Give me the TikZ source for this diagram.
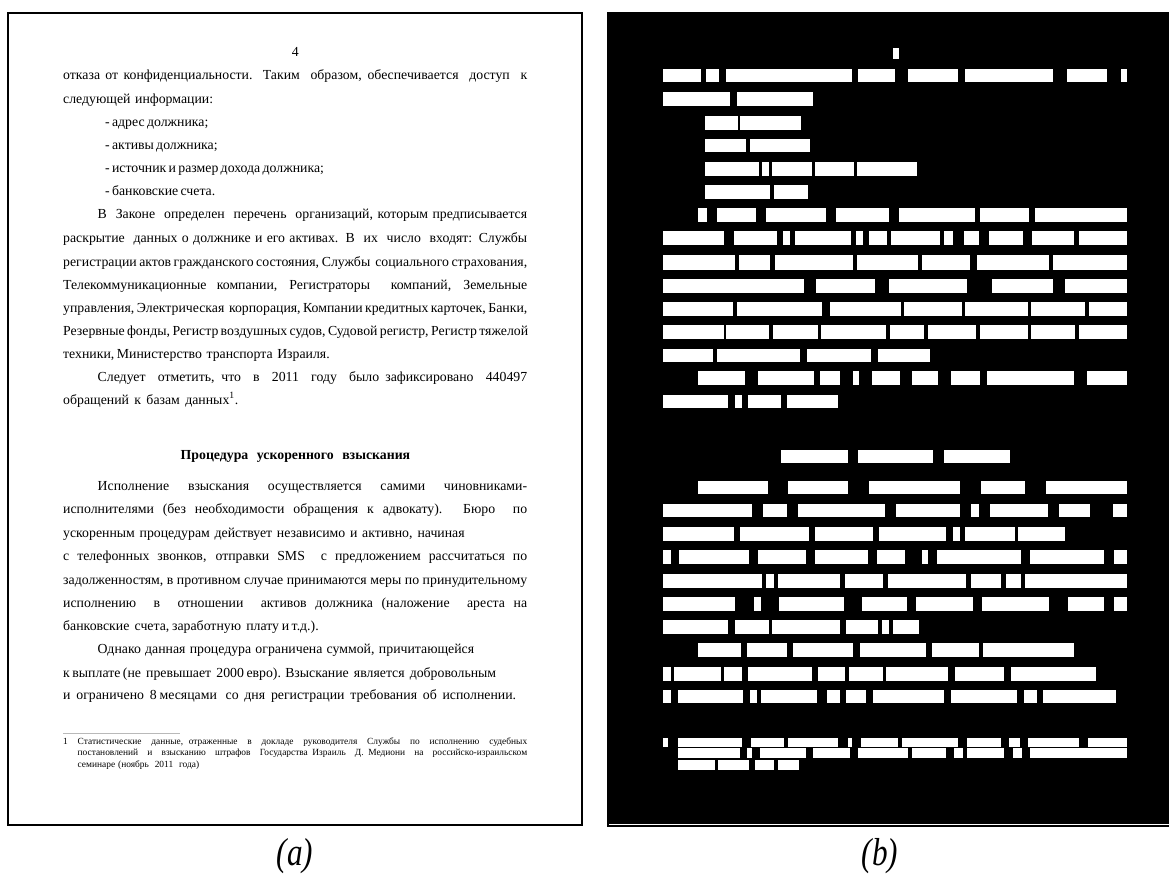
\documentclass[tikz,border=0pt]{standalone}
\usepackage{fontspec}
\setmainfont{Liberation Serif}
\newcommand{\pageLine}[5]{%%
  \node[lineStyle] (#1) at (#2,#3) {\makebox[#4pt][s]{#5}};
}
\newcommand{\noteLine}[5]{%%
  \node[noteStyle] (#1) at (#2,#3) {\makebox[#4pt][s]{#5}};
}
\newcommand{\maskRow}[3]{%%
  %% One row of word masks: top, bottom, left/right pairs.
  \foreach \xl/\xr in {#3} {%%
    \fill[maskStyle] (\xl,#1) rectangle (\xr,#2);
  }
}

\begin{document}
\begin{tikzpicture}[%%
  x=1pt,y=-1pt,%%
  frameStyle/.style={draw=black,line width=2pt},%%
  lineStyle/.style={anchor=base west,inner sep=0pt,font=\fontsize{13.8}{16}\selectfont},%%
  headStyle/.style={lineStyle,font=\fontsize{13.8}{16}\selectfont\bfseries},%%
  noteStyle/.style={lineStyle,font=\fontsize{9.4}{11}\selectfont},%%
  maskStyle/.style={fill=white},%%
  captionStyle/.style={inner sep=0pt,font=\fontsize{39}{42}\selectfont\itshape,xscale=0.8}%%
]
\useasboundingbox (0,0) rectangle (1169,877);
%%
%%
%% Panel (a): the page.
\draw[frameStyle] (8,13) rectangle (582,825);
\node[lineStyle,anchor=base] (pageNo) at (295.4,57) {4};
\pageLine{l1}{63}{79.2}{464}{отказа от конфиденциальности. Таким\ \ образом, обеспечивается\ \ доступ\ \ к}
\pageLine{l2}{63}{103.2}{150}{следующей информации:}
\pageLine{l3}{105}{126.7}{96}{- адрес должника;}
\pageLine{l4}{105}{149.2}{104.5}{- активы должника;}
\pageLine{l5}{105}{172.7}{211.5}{- источник и размер дохода должника;}
\pageLine{l6}{105}{195.7}{103}{- банковские счета.}
\pageLine{l7}{97.5}{218.7}{429.5}{В\ \ Законе\ \ определен\ \ перечень\ \ организаций, которым предписывается}
\pageLine{l8}{63}{242.2}{464}{раскрытие\ \ данных о должнике и его активах. В\ \ их\ \ число\ \ входят: Службы}
\pageLine{l9}{63}{266.2}{464}{регистрации актов гражданского состояния, Службы\ \ социального страхования,}
\pageLine{l10}{63}{289.2}{464}{Телекоммуникационные компании, Регистраторы\ \ компаний, Земельные}
\pageLine{l11}{63}{312.2}{464}{управления, Электрическая\ \ корпорация, Компании кредитных карточек, Банки,}
\pageLine{l12}{63}{335.2}{464}{Резервные фонды, Регистр воздушных судов, Судовой регистр, Регистр тяжелой}
\pageLine{l13}{63}{358.2}{266.5}{техники, Министерство\ \ транспорта\ \ Израиля.}
\pageLine{l14}{97.5}{381.7}{429.5}{Следует\ \ отметить, что\ \ в\ \ 2011\ \ году\ \ было зафиксировано\ \ 440497}
\pageLine{l15}{63}{404.2}{175}{обращений к базам данных\textsuperscript{1}.}
%%
%% The section heading and its text.
\node[headStyle] (head) at (180.5,459.7) {\makebox[229.5pt][s]{Процедура\ \ ускоренного\ \ взыскания}};
\pageLine{m1}{97.5}{490.7}{429.5}{Исполнение взыскания осуществляется самими чиновниками-}
\pageLine{m2}{63}{513.7}{464}{исполнителями (без необходимости обращения к адвокату). Бюро\ \ по}
\pageLine{m3}{63}{537.2}{401.5}{ускоренным процедурам действует независимо и активно, начиная}
\pageLine{m4}{63}{560.2}{464}{с телефонных звонков, отправки SMS\ \ с предложением рассчитаться по}
\pageLine{m5}{63}{584.2}{464}{задолженностям, в противном случае принимаются меры по принудительному}
\pageLine{m6}{63}{607.2}{464}{исполнению\ \ в\ \ отношении\ \ активов должника (наложение\ \ ареста на}
\pageLine{m7}{63}{630.2}{255.5}{банковские\ \ счета, заработную\ \ плату и т.д.).}
\pageLine{m8}{97.5}{653.2}{376.5}{Однако данная процедура ограничена суммой, причитающейся}
\pageLine{m9}{63}{677.2}{433}{к выплате (не\ \ превышает\ \ 2000 евро). Взыскание\ \ является\ \ добровольным}
\pageLine{m10}{63}{699.2}{453}{и\ \ ограничено\ \ 8 месяцами\ \ \ со\ \ дня\ \ регистрации\ \ требования\ \ об\ \ исполнении.}
%%
%% The footnote.
\draw[gray!55,line width=0.8pt] (63,733) -- (180,733);
\node[noteStyle] (noteMark) at (63,744.8) {1};
\noteLine{f1}{77.5}{744.8}{449.5}{Статистические\ \ данные, отраженные\ \ в\ \ докладе\ \ руководителя\ \ Службы\ \ по\ \ исполнению\ \ судебных}
\noteLine{f2}{77.5}{755.8}{449.5}{постановлений\ \ и\ \ взысканию\ \ штрафов\ \ Государства Израиль\ \ Д. Медиони\ \ на\ \ российско-израильском}
\noteLine{f3}{77.5}{767.3}{121.5}{семинаре (ноябрь\ \ 2011\ \ года)}
%%
%%
%% Panel (b): the word masks.
\fill[black] (607,12.5) rectangle (1169,827);
\draw[white,line width=1.2pt] (609,824.8) -- (1169,824.8);
\maskRow{48.5}{59.5}{892.5/898.5}
\maskRow{69.5}{82.5}{663/700.5, 706/719, 725.5/851.5, 857.5/894.5, 907.5/958, 964.5/1053, 1066.5/1106.5, 1121/1127}
\maskRow{92.5}{106.5}{663/730, 736.5/813}
\maskRow{116}{130}{705/738, 740/801}
\maskRow{139}{152.5}{705/746, 750/809.5}
\maskRow{162.5}{176}{705/758.5, 761.5/769, 772/811.5, 815/854, 856.5/916.5}
\maskRow{185.5}{199}{705/769.5, 774/808}
\maskRow{208.5}{222}{697.5/706.5, 716.5/756, 766/826, 836/888.5, 899/975, 979.5/1029, 1034.5/1127}
\maskRow{231.5}{245.5}{663/724, 734/777, 782.5/789.5, 794.5/851, 856/863, 868.5/886.5, 891/939.5, 944/953, 963.5/978.5, 988.5/1022.5, 1031.5/1074, 1079/1127}
\maskRow{255.5}{269.5}{663/735, 739/769.5, 774.5/852.5, 856.5/917.5, 922/970, 977/1049, 1053/1127}
\maskRow{278.5}{292.5}{663/804, 816/875, 888.5/966.5, 992/1052.5, 1064.5/1127}
\maskRow{301.5}{315.5}{663/733, 737/822, 829.5/900.5, 904/961.5, 965/1028, 1031/1085, 1089/1127}
\maskRow{325}{338.5}{663/724, 726/769, 773/817.5, 821/886, 889.5/924, 928/976, 979.5/1027.5, 1031/1075, 1079/1127}
\maskRow{348.5}{361.5}{663/713, 717/800, 806.5/871, 878/929.5}
\maskRow{371}{385}{697.5/744.5, 757.5/813.5, 820/839.5, 852.5/859, 872/899.5, 912/937.5, 950.5/980, 986.5/1073.5, 1086.5/1127}
\maskRow{394.5}{407.5}{663/727.5, 734.5/741.5, 747.5/781, 787/838}
\maskRow{449.5}{463}{780.5/847.5, 857.5/933, 943.5/1010}
\maskRow{480.5}{494}{697.5/767.5, 788/848, 869/960, 981/1024.5, 1045.5/1127}
\maskRow{503.5}{517}{663/752, 763/786.5, 798/884.5, 896/960, 971/978.5, 989.5/1048, 1059/1089.5, 1113/1127}
\maskRow{526.5}{540.5}{663/733.5, 740/809, 815/872.5, 878.5/946, 952.5/959.5, 965/1015, 1018/1064.5}
\maskRow{549.5}{563.5}{663/670.5, 678.5/749, 757.5/806, 815/867.5, 876.5/904.5, 922/928, 936.5/1020.5, 1030/1104, 1113.5/1127}
\maskRow{573.5}{587.5}{663/761.5, 766/773.5, 777.5/839.5, 845/882.5, 887.5/965.5, 971/1001, 1006/1020.5, 1025/1127}
\maskRow{597}{610.5}{663/735, 753.5/761, 778.5/843.5, 862/907, 916/972.5, 982/1048.5, 1067.5/1104, 1113.5/1127}
\maskRow{620}{633.5}{663/728, 734.5/769, 771.5/839.5, 846/878, 881.5/888.5, 892.5/918.5}
\maskRow{643}{656.5}{697.5/740.5, 747/786.5, 793/852.5, 859.5/925.5, 931.5/978.5, 982.5/1074}
\maskRow{666.5}{680.5}{663/670.5, 674/720.5, 724/741.5, 748/811.5, 818/845, 849/883, 886/948, 954.5/1004, 1011/1096}
\maskRow{689.5}{702.5}{663/670.5, 677.5/743, 750/757, 760.5/816.5, 827/839.5, 846/866, 873/944, 950.5/1016.5, 1023.5/1036.5, 1043/1116}
\maskRow{737.5}{747}{663/668, 677.5/742, 751/784, 788/838, 847.5/851.5, 860.5/897.5, 901.5/958, 966.5/1000.5, 1008.5/1019.5, 1027.5/1079, 1087.5/1127}
\maskRow{748}{758}{677.5/740, 747/752, 760/805.5, 813/850, 858/908, 911.5/945.5, 954/962.5, 966.5/1004, 1012.5/1022, 1030/1127}
\maskRow{759.5}{769.5}{677.5/715, 717.5/748.5, 754.5/773.5, 778/799}
%%
%%
%% Captions.
\node[captionStyle] (capA) at (295,856) {(a)};
\node[captionStyle] (capB) at (880,856) {(b)};
\end{tikzpicture}
\end{document}
